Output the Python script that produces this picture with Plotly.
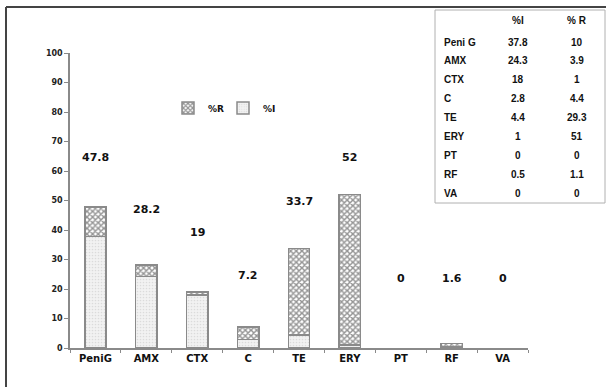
import plotly.graph_objects as go

categories = ["PeniG", "AMX", "CTX", "C", "TE", "ERY", "PT", "RF", "VA"]
pct_I = [37.8, 24.3, 18, 2.8, 4.4, 1, 0, 0.5, 0]
pct_R = [10, 3.9, 1, 4.4, 29.3, 51, 0, 1.1, 0]
totals = ["47.8", "28.2", "19", "7.2", "33.7", "52", "0", "1.6", "0"]
table_header = ["", "%I", "% R"]
table_labels = ["Peni G", "AMX", "CTX", "C", "TE", "ERY", "PT", "RF", "VA"]
table_I = ["37.8", "24.3", "18", "2.8", "4.4", "1", "0", "0.5", "0"]
table_R = ["10", "3.9", "1", "4.4", "29.3", "51", "0", "1.1", "0"]

# label placement (layout only)
label_y = [64.7, 46.8, 39, 24.7, 49.5, 64.7, 23.7, 23.7, 23.7]

W, H = 606, 387
ML, MR, MT, MB = 70, 1, 10, 39
PW, PH = W - ML - MR, H - MT - MB

def px_x(x):
    return (x - ML) / PW

def px_y(y):
    return (H - MB - y) / PH

FONT = "DejaVu Sans"
TFONT = "Liberation Sans"
edge = "#8a8a8a"

def lw(vals):
    return [1.5 if v > 0 else 0 for v in vals]

fig = go.Figure()
fig.add_trace(go.Bar(
    x=categories, y=pct_I, name="%I", width=0.42,
    marker=dict(color="#f2f2f2", line=dict(color=edge, width=lw(pct_I)),
                pattern=dict(shape=".", fgcolor="#c4c4c4", size=3, solidity=0.25)),
))
fig.add_trace(go.Bar(
    x=categories, y=pct_R, name="%R", width=0.42,
    marker=dict(color="#ffffff", line=dict(color=edge, width=lw(pct_R)),
                pattern=dict(shape="x", fgcolor="#2a2a2a", size=4, solidity=0.6)),
))

for c, t, yy in zip(categories, totals, label_y):
    fig.add_annotation(x=c, y=yy, text=t, showarrow=False,
                       font=dict(family=FONT, size=11, color="#111", weight="bold"),
                       xref="x", yref="y")

# table drawn as text cells
col_x = [442, 518, 577]
col_anchor = ["left", "center", "center"]
header_y = 20
row_y0, row_dy = 42, 18.9
tfont = dict(family=TFONT, size=10, color="#111", weight="bold")
for j, h in enumerate(table_header):
    if h:
        fig.add_annotation(xref="paper", yref="paper", x=px_x(col_x[j]), y=px_y(header_y),
                           text=h, showarrow=False, xanchor=col_anchor[j],
                           yanchor="middle", font=tfont)
for i, (a, b, c) in enumerate(zip(table_labels, table_I, table_R)):
    yy = px_y(row_y0 + i * row_dy)
    for j, v in enumerate((a, b, c)):
        fig.add_annotation(xref="paper", yref="paper", x=px_x(col_x[j]), y=yy,
                           text=v, showarrow=False, xanchor=col_anchor[j],
                           yanchor="middle", font=tfont)

# table border and outer frame
fig.add_shape(type="rect", xref="paper", yref="paper",
              x0=px_x(435), x1=px_x(605), y0=px_y(203), y1=px_y(10),
              line=dict(color="#b0b0b0", width=1))
fig.add_shape(type="line", xref="paper", yref="paper",
              x0=px_x(6), x1=px_x(606), y0=px_y(7), y1=px_y(7),
              line=dict(color="#444", width=2))
fig.add_shape(type="line", xref="paper", yref="paper",
              x0=px_x(6), x1=px_x(6), y0=px_y(7), y1=px_y(390),
              line=dict(color="#444", width=2))

fig.update_layout(
    width=W, height=H,
    margin=dict(l=ML, r=MR, t=MT, b=MB),
    paper_bgcolor="white", plot_bgcolor="white",
    barmode="stack",
    font=dict(family=FONT, color="#222"),
    showlegend=True,
    legend=dict(orientation="h", x=px_x(168), y=px_y(108), xanchor="left", yanchor="middle",
                traceorder="reversed",
                font=dict(family=FONT, size=9, color="#111", weight="bold"),
                itemwidth=30, entrywidth=10, entrywidthmode="pixels",
                bgcolor="rgba(0,0,0,0)", tracegroupgap=0),
    xaxis=dict(domain=[0, px_x(528)], showline=True, linecolor=edge, linewidth=1.5,
               ticks="outside", tickson="boundaries", ticklen=3, tickcolor=edge,
               tickfont=dict(family=FONT, size=10, color="#111", weight="bold"),
               showgrid=False),
    yaxis=dict(domain=[0, px_y(53)], range=[0, 100], dtick=10, showline=True,
               linecolor=edge, linewidth=1.5, ticks="outside", ticklen=4, tickcolor=edge,
               tickfont=dict(family=FONT, size=8, color="#222", weight="bold"),
               showgrid=False, zeroline=False),
)

fig.write_html("out.html", config={"displayModeBar": False},
               post_script="document.body.style.margin='0';")
